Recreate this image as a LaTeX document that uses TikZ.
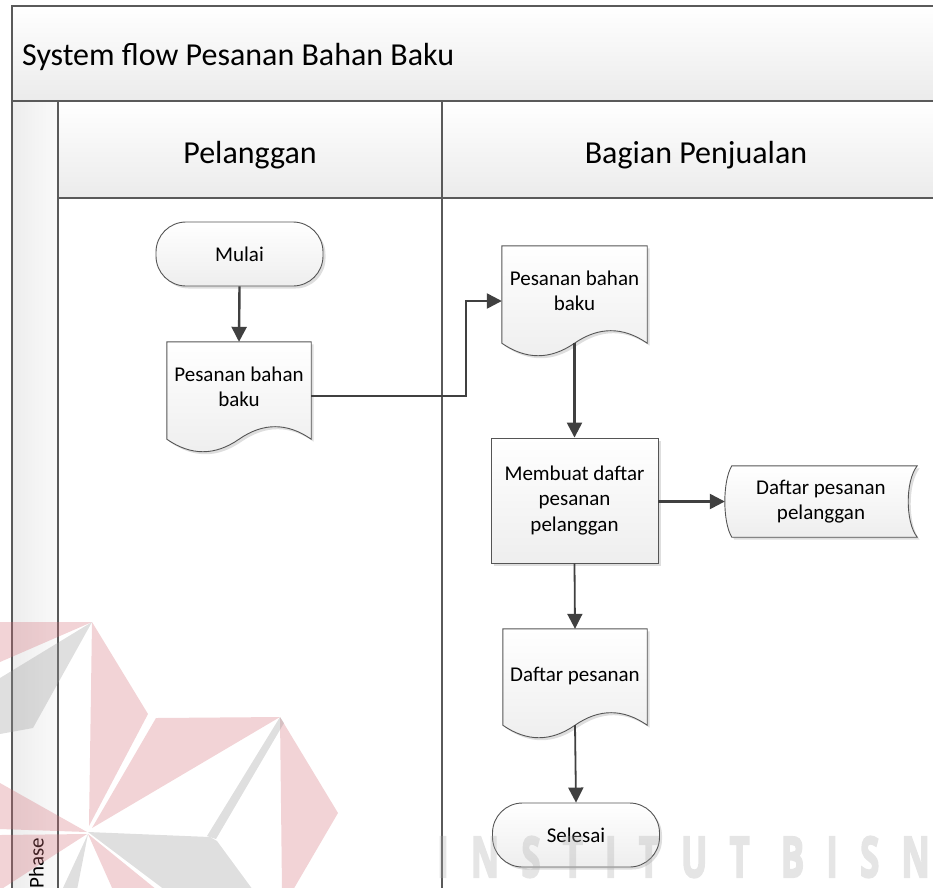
\documentclass[tikz,border=0pt]{standalone}
\usepackage{fontspec}
\setmainfont{Carlito}
\newfontfamily\wmfont[LetterSpace=64, FakeBold=4]{Open Sans}
\usetikzlibrary{arrows.meta,calc,shadows}

\definecolor{edge}{HTML}{555555}
\definecolor{framec}{HTML}{5A5A5A}
\definecolor{arrowc}{HTML}{404040}
\definecolor{bandlow}{HTML}{EBEBEB}
\definecolor{shapelow}{HTML}{EEEEEE}
\definecolor{wmpink}{RGB}{212,108,118}
\definecolor{wmgray}{RGB}{150,150,150}
\definecolor{wmtext}{RGB}{170,170,170}

\pgfdeclarelayer{lanes}
\pgfdeclarelayer{shapes}
\pgfsetlayers{lanes,shapes,main}

\tikzset{
  frameline/.style={draw=framec, line width=1.4pt},
  band/.style={top color=white, bottom color=bandlow},
  lbl/.style={font=\fontsize{21}{25.5}\selectfont, align=center, text=black},
  shadowed/.style={drop shadow={shadow xshift=2.5pt, shadow yshift=-2.5pt, fill=black, opacity=0.13}},
  shapefill/.style={top color=white, bottom color=shapelow, draw=edge, line width=0.9pt},
  terminal/.style={shapefill, shadowed, rounded corners=30pt, minimum width=167pt, minimum height=64pt, inner sep=0pt, lbl},
  process/.style={shapefill, shadowed, minimum width=167pt, minimum height=125pt, inner sep=0pt, lbl},
  holder/.style 2 args={inner sep=0pt, minimum width=#1, minimum height=#2, lbl},
  flow/.style={draw=arrowc, line width=2.4pt, -{Triangle[length=15pt,width=15pt]}},
  flowthin/.style={flow, line width=1.8pt},
  wmpatch/.style={fill=#1, fill opacity=0.3, draw=none},
}

% document symbol with a wavy lower edge around a holder node
\newcommand\docshape[1]{%
  \path[shapefill, shadowed]
    (#1.north west) -- (#1.north east) -- (#1.south east)
    .. controls ($(#1.south east)!0.1667!(#1.south west)+(0,-16.7)$)
            and ($(#1.south east)!0.3333!(#1.south west)+(0,-16.7)$) .. ($(#1.south east)!0.5!(#1.south west)$)
    .. controls ($(#1.south east)!0.6667!(#1.south west)+(0,16.7)$)
            and ($(#1.south east)!0.8333!(#1.south west)+(0,16.7)$) .. (#1.south west) -- cycle;}

% stored-data symbol: convex left side, concave right side
\newcommand\storeshape[1]{%
  \path[shapefill, shadowed]
    ($(#1.north west)+(7,0)$) -- (#1.north east)
    .. controls ($(#1.north east)+(-12,15)$) and ($(#1.south east)+(-12,-15)$) .. (#1.south east)
    -- ($(#1.south west)+(7,0)$)
    .. controls ($(#1.south west)+(-2.3,-15)$) and ($(#1.north west)+(-2.3,15)$) .. ($(#1.north west)+(7,0)$) -- cycle;}

\begin{document}
\begin{tikzpicture}[x=1pt, y=-1pt]
\useasboundingbox (0,0) rectangle (933,887);
\clip (0,0) rectangle (933,887);

% ---------- swimlane frame ----------
\begin{pgfonlayer}{lanes}
  \path[band] (12,6) rectangle (950,101);
  \path[band] (58,101) rectangle (950,198);
  \path[left color=white!93!black, right color=white!98!black] (12,101) rectangle (58,895);
  \draw[frameline] (950,6) -- (12,6) -- (12,895);
  \draw[frameline] (12,101) -- (950,101);
  \draw[frameline] (58,198) -- (950,198);
  \draw[frameline] (58,101) -- (58,895);
  \draw[frameline] (442,101) -- (442,895);
\end{pgfonlayer}

\node[anchor=base west, inner sep=0pt, font=\fontsize{32}{38}\selectfont] (title) at (22,65) {System flow Pesanan Bahan Baku};
\node[anchor=base, inner sep=0pt, font=\fontsize{32}{38}\selectfont] (lane1) at (250,163) {Pelanggan};
\node[anchor=base, inner sep=0pt, font=\fontsize{32}{38}\selectfont] (lane2) at (696,163) {Bagian Penjualan};
\node[anchor=base west, inner sep=0pt, rotate=90, font=\fontsize{21}{25}\selectfont] (phase) at (43.5,889) {Phase};

% ---------- flow symbols ----------
\node[terminal] (mulai) at (239.5,254) {Mulai};
\node[holder={144pt}{97pt}, text depth=8pt] (pb1) at (239,390.5) {Pesanan bahan\\baku};
\node[holder={145pt}{97pt}, text depth=8pt] (pb2) at (574.5,294.5) {Pesanan bahan\\baku};
\node[process] (proc) at (574.5,500.5) {Membuat daftar\\pesanan\\pelanggan};
\node[holder={192pt}{71pt}] (store) at (821,501.5) {Daftar pesanan\\pelanggan};
\node[holder={144pt}{96pt}, text depth=5pt] (doc3) at (575,677) {Daftar pesanan};
\node[terminal] (selesai) at (576,835) {Selesai};

\begin{pgfonlayer}{shapes}
  \docshape{pb1}
  \docshape{pb2}
  \docshape{doc3}
  \storeshape{store}
\end{pgfonlayer}

% ---------- connectors ----------
\coordinate (bendlow) at (466,396);
\coordinate (bendhigh) at (466,301);
\draw[flow] (mulai.south) -- (pb1.north);
\draw[flow] (pb1.east |- bendlow) -- (bendlow) -- (bendhigh) -- (pb2.west |- bendhigh);
\draw[flow] (pb2.south) -- (proc.north);
\draw[flow] (proc.east |- store.west) -- (store.west);
\draw[flowthin] (proc.south) -- (doc3.north);
\draw[flowthin] (doc3.south) -- (selesai.north);

% ---------- faint institute mark ----------
\fill[wmpatch=wmpink] (0,622) -- (92,622) -- (0,662) -- cycle;
\fill[wmpatch=wmpink] (92,622) -- (148,714) -- (89,826) -- cycle;
\fill[wmpatch=wmpink] (156,718) -- (280,717) -- (92,828) -- cycle;
\fill[wmpatch=wmpink] (280,717) -- (338,813) -- (293,890) -- (282,890) -- cycle;
\fill[wmpatch=wmpink] (0,783) -- (87,832) -- (0,829) -- cycle;
\fill[wmpatch=wmpink] (0,835) -- (87,834) -- (0,890) -- cycle;
\fill[wmpatch=wmpink] (88,834) -- (113,890) -- (157,890) -- cycle;
\fill[wmpatch=wmgray] (92,622) -- (0,678) -- (0,734) -- (33,728) -- cycle;
\fill[wmpatch=wmgray] (88,832) -- (210,837) -- (217,841) -- (253,890) -- (165,890) -- cycle;
\fill[wmpatch=wmgray] (280,717) -- (207,836) -- (216,839) -- (284,723) -- cycle;
\fill[wmpatch=wmgray] (88,834) -- (62,890) -- (77,890) -- cycle;
\begin{scope}[transparency group, opacity=0.3]
  \node[anchor=base west, inner sep=0pt, text=wmtext] (mark) at (437,877)
    {\scalebox{0.62}[1]{\wmfont\bfseries\fontsize{56}{56}\selectfont INSTITUT BISN}};
\end{scope}
\end{tikzpicture}
\end{document}
